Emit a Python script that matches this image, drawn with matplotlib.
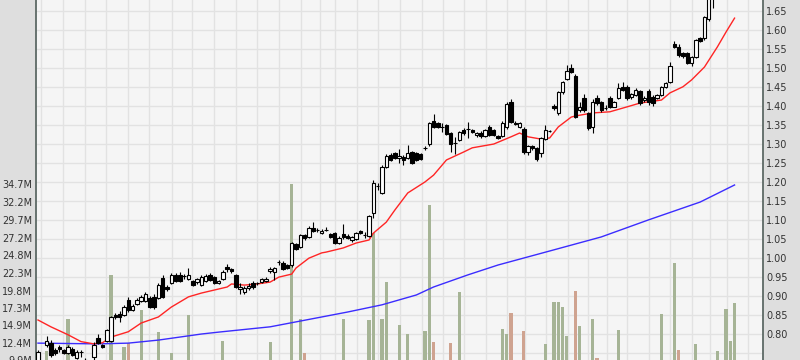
import numpy as np
import matplotlib
matplotlib.use("Agg")
import matplotlib.pyplot as plt
import matplotlib.transforms as mtransforms

# daily candles (price), oldest first
opens = [0.725, 0.728, 0.770, 0.775, 0.757, 0.765, 0.757, 0.749, 0.760, 0.736,
         0.752, 0.730, 0.715, 0.738, 0.789, 0.770, 0.781, 0.781, 0.849, 0.852,
         0.849, 0.889, 0.862, 0.878, 0.886, 0.886, 0.894, 0.897, 0.894, 0.947,
         0.923, 0.934, 0.955, 0.955, 0.952, 0.944, 0.939, 0.936, 0.928, 0.939,
         0.955, 0.950, 0.934, 0.944, 0.976, 0.971, 0.955, 0.918, 0.910, 0.920,
         0.934, 0.934, 0.936, 0.939, 0.965, 0.963, 0.989, 0.986, 0.981, 0.981,
         1.036, 1.029, 1.060, 1.055, 1.079, 1.074, 1.066, 1.074, 1.063, 1.066,
         1.039, 1.063, 1.058, 1.047, 1.050, 1.071, 1.060, 1.058, 1.118, 1.189,
         1.171, 1.240, 1.271, 1.277, 1.263, 1.266, 1.263, 1.279, 1.277, 1.274,
         1.290, 1.300, 1.361, 1.356, 1.345, 1.350, 1.329, 1.303, 1.311, 1.337,
         1.340, 1.337, 1.324, 1.329, 1.321, 1.345, 1.337, 1.321, 1.321, 1.345,
         1.411, 1.356, 1.345, 1.340, 1.279, 1.295, 1.290, 1.277, 1.313, 1.334,
         1.400, 1.382, 1.437, 1.472, 1.501, 1.480, 1.390, 1.422, 1.382, 1.345,
         1.422, 1.411, 1.395, 1.422, 1.398, 1.422, 1.451, 1.451, 1.424, 1.430,
         1.440, 1.416, 1.440, 1.424, 1.422, 1.430, 1.451, 1.464, 1.564, 1.556,
         1.540, 1.540, 1.514, 1.530, 1.580, 1.580, 1.630, 1.700, 1.720, 1.770,
         1.760, 1.830, 1.870]
highs = [0.757, 0.730, 0.794, 0.783, 0.762, 0.770, 0.760, 0.770, 0.765, 0.757,
         0.757, 0.735, 0.728, 0.778, 0.799, 0.773, 0.813, 0.847, 0.855, 0.860,
         0.876, 0.897, 0.878, 0.894, 0.902, 0.910, 0.899, 0.905, 0.934, 0.955,
         0.928, 0.960, 0.960, 0.963, 0.958, 0.973, 0.942, 0.947, 0.955, 0.958,
         0.960, 0.952, 0.942, 0.968, 0.984, 0.973, 0.958, 0.934, 0.926, 0.934,
         0.939, 0.937, 0.947, 0.950, 0.976, 0.976, 0.995, 0.992, 0.984, 1.042,
         1.039, 1.063, 1.063, 1.084, 1.095, 1.079, 1.076, 1.082, 1.066, 1.068,
         1.058, 1.089, 1.063, 1.058, 1.068, 1.074, 1.068, 1.113, 1.205, 1.197,
         1.245, 1.274, 1.277, 1.279, 1.287, 1.271, 1.298, 1.282, 1.279, 1.277,
         1.295, 1.359, 1.380, 1.359, 1.356, 1.353, 1.332, 1.319, 1.335, 1.342,
         1.358, 1.340, 1.332, 1.335, 1.340, 1.350, 1.340, 1.324, 1.361, 1.411,
         1.419, 1.361, 1.359, 1.345, 1.298, 1.298, 1.292, 1.319, 1.350, 1.337,
         1.406, 1.440, 1.467, 1.509, 1.511, 1.485, 1.411, 1.432, 1.385, 1.419,
         1.430, 1.414, 1.403, 1.427, 1.414, 1.461, 1.464, 1.456, 1.435, 1.448,
         1.443, 1.427, 1.445, 1.430, 1.432, 1.453, 1.464, 1.517, 1.572, 1.564,
         1.543, 1.543, 1.532, 1.577, 1.583, 1.638, 1.700, 1.740, 1.780, 1.800,
         1.840, 1.880, 1.920]
lows = [0.717, 0.715, 0.765, 0.738, 0.744, 0.752, 0.746, 0.746, 0.741, 0.733,
        0.738, 0.710, 0.705, 0.725, 0.772, 0.762, 0.778, 0.778, 0.839, 0.831,
        0.847, 0.857, 0.860, 0.876, 0.884, 0.884, 0.868, 0.865, 0.891, 0.894,
        0.913, 0.931, 0.936, 0.936, 0.944, 0.941, 0.926, 0.931, 0.926, 0.936,
        0.939, 0.931, 0.931, 0.942, 0.963, 0.960, 0.920, 0.905, 0.905, 0.915,
        0.918, 0.928, 0.934, 0.936, 0.960, 0.941, 0.981, 0.968, 0.971, 0.976,
        1.021, 1.026, 1.047, 1.052, 1.068, 1.068, 1.063, 1.071, 1.052, 1.036,
        1.036, 1.050, 1.050, 1.042, 1.047, 1.063, 1.052, 1.055, 1.105, 1.179,
        1.168, 1.237, 1.256, 1.261, 1.250, 1.245, 1.261, 1.248, 1.256, 1.258,
        1.284, 1.295, 1.343, 1.343, 1.332, 1.324, 1.279, 1.274, 1.308, 1.324,
        1.316, 1.329, 1.319, 1.316, 1.319, 1.321, 1.321, 1.313, 1.319, 1.340,
        1.356, 1.350, 1.343, 1.274, 1.271, 1.284, 1.256, 1.266, 1.311, 1.332,
        1.390, 1.377, 1.432, 1.469, 1.488, 1.369, 1.385, 1.385, 1.337, 1.329,
        1.403, 1.385, 1.390, 1.395, 1.398, 1.419, 1.440, 1.416, 1.419, 1.427,
        1.403, 1.411, 1.403, 1.400, 1.419, 1.427, 1.448, 1.461, 1.554, 1.530,
        1.527, 1.511, 1.506, 1.527, 1.569, 1.574, 1.625, 1.659, 1.710, 1.740,
        1.750, 1.820, 1.850]
closes = [0.752, 0.722, 0.781, 0.744, 0.749, 0.760, 0.749, 0.765, 0.744, 0.752,
          0.751, 0.715, 0.720, 0.770, 0.775, 0.765, 0.810, 0.844, 0.844, 0.844,
          0.870, 0.862, 0.873, 0.889, 0.897, 0.905, 0.870, 0.870, 0.928, 0.897,
          0.918, 0.955, 0.939, 0.939, 0.951, 0.955, 0.928, 0.944, 0.950, 0.952,
          0.942, 0.934, 0.939, 0.963, 0.971, 0.965, 0.923, 0.923, 0.920, 0.926,
          0.923, 0.933, 0.944, 0.944, 0.971, 0.973, 0.988, 0.971, 0.973, 1.039,
          1.023, 1.060, 1.052, 1.079, 1.071, 1.073, 1.071, 1.073, 1.055, 1.039,
          1.052, 1.055, 1.052, 1.055, 1.066, 1.066, 1.061, 1.110, 1.197, 1.190,
          1.240, 1.269, 1.258, 1.263, 1.269, 1.258, 1.277, 1.250, 1.258, 1.261,
          1.289, 1.356, 1.345, 1.345, 1.346, 1.327, 1.300, 1.302, 1.332, 1.329,
          1.339, 1.332, 1.329, 1.321, 1.337, 1.324, 1.324, 1.316, 1.356, 1.406,
          1.358, 1.353, 1.356, 1.279, 1.295, 1.290, 1.261, 1.316, 1.337, 1.335,
          1.395, 1.437, 1.464, 1.493, 1.490, 1.372, 1.398, 1.390, 1.342, 1.411,
          1.408, 1.390, 1.396, 1.398, 1.411, 1.448, 1.443, 1.422, 1.432, 1.443,
          1.408, 1.422, 1.411, 1.408, 1.430, 1.451, 1.461, 1.506, 1.556, 1.535,
          1.532, 1.514, 1.530, 1.574, 1.572, 1.635, 1.690, 1.720, 1.770, 1.760,
          1.830, 1.870, 1.910]

# volume in millions
volumes = [8.2, 6.5, 11.3, 7.1, 5.3, 4.8, 6.0, 15.81, 7.7, 5.9,
           4.6, 8.8, 6.7, 9.4, 7.3, 5.1, 8.9, 21.98, 7.9, 9.1,
           11.88, 12.44, 6.2, 8.4, 17.07, 9.3, 7.5, 8.1, 13.99, 9.6,
           5.7, 11.04, 6.8, 7.2, 5.0, 16.37, 6.3, 5.5, 8.6, 7.0,
           6.1, 7.4, 4.9, 12.72, 8.3, 6.6, 9.2, 7.8, 5.4, 6.9,
           6.4, 4.7, 7.6, 8.0, 12.58, 9.0, 8.5, 7.1, 6.2, 34.74,
           9.7, 15.81, 11.04, 9.5, 8.7, 6.0, 5.8, 6.9, 7.3, 8.8,
           6.5, 15.81, 7.2, 5.6, 8.1, 6.7, 9.1, 15.67, 27.87, 9.8,
           15.81, 21.0, 9.4, 8.9, 14.97, 9.6, 13.70, 8.2, 7.4, 9.0,
           14.13, 31.80, 12.58, 9.3, 7.7, 9.9, 12.44, 8.6, 19.60, 8.0,
           7.5, 6.4, 5.9, 7.0, 8.3, 9.2, 7.8, 6.1, 14.41, 13.70,
           16.65, 8.4, 7.6, 14.13, 9.5, 6.8, 9.7, 9.9, 12.30, 5.2,
           18.19, 18.19, 17.49, 13.42, 9.8, 19.74, 14.83, 9.4, 9.6, 15.81,
           10.34, 8.5, 6.3, 8.9, 7.1, 14.27, 9.0, 9.3, 6.6, 7.9,
           9.5, 6.0, 8.8, 7.4, 6.9, 16.51, 9.6, 9.9, 23.67, 11.46,
           8.7, 9.2, 7.3, 12.30, 9.4, 9.8, 9.7, 9.9, 11.32, 9.5,
           17.21, 12.72, 18.05]

# moving averages (candle index, price)
ma_short_idx = [0, 3, 7, 10, 13, 15, 17, 21, 24, 28, 31, 35, 38, 41, 44, 45, 48, 51,
                54, 56, 59, 60, 63, 66, 67, 71, 74, 77, 78, 81, 83, 86, 90, 92, 95,
                99, 101, 106, 110, 112, 114, 117, 119, 121, 124, 125, 129, 133, 137,
                140, 145, 147, 150, 152, 155, 158, 160, 162]
ma_short = [0.836, 0.818, 0.797, 0.779, 0.773, 0.776, 0.791, 0.805, 0.828, 0.844,
            0.870, 0.897, 0.907, 0.915, 0.923, 0.931, 0.928, 0.931, 0.936, 0.949,
            0.957, 0.973, 0.999, 1.013, 1.015, 1.026, 1.039, 1.047, 1.065, 1.094,
            1.126, 1.171, 1.200, 1.218, 1.258, 1.279, 1.290, 1.300, 1.319, 1.329,
            1.319, 1.313, 1.316, 1.345, 1.371, 1.374, 1.382, 1.385, 1.398, 1.408,
            1.416, 1.435, 1.451, 1.469, 1.503, 1.556, 1.595, 1.632]
ma_long_idx = [0, 14, 21, 28, 38, 42, 54, 66, 72, 80, 88, 92, 100, 107, 120, 131,
               142, 154, 162]
ma_long = [0.775, 0.773, 0.775, 0.783, 0.799, 0.804, 0.818, 0.844, 0.857, 0.876,
           0.902, 0.923, 0.955, 0.981, 1.021, 1.055, 1.100, 1.147, 1.192]

price_ticks = [0.75, 0.80, 0.85, 0.90, 0.95, 1.00, 1.05, 1.10, 1.15, 1.20, 1.25,
               1.30, 1.35, 1.40, 1.45, 1.50, 1.55, 1.60, 1.65]
vol_ticks = [12.4, 14.9, 17.3, 19.8, 22.3, 24.8, 27.2, 29.7, 32.2, 34.7]
vol_labels = ["12.4M", "14.9M", "17.3M", "19.8M", "22.3M", "24.8M", "27.2M",
              "29.7M", "32.2M", "34.7M"]
week_lines = [0.7, 5.8, 10.9, 15.8, 20.9, 25.8, 31.2, 35.8, 40.9, 46, 50.9, 56,
              61.1, 65.6, 69.1, 74.1, 79.1, 84.2, 89.2, 94.2, 99.1, 104.2, 109.1,
              113.3, 118.1, 123.2, 128, 132.3, 137.1, 142.2, 147.1, 152.2, 156.3,
              160.2, 165.2]

x = np.arange(len(closes))
o = np.array(opens)
c = np.array(closes)
up_day = np.r_[True, c[1:] >= c[:-1]]

fig = plt.figure(figsize=(8, 3.6), dpi=100, facecolor="#dedede")
rect = [35.5 / 800, 0, 727 / 800, 1]
ax_bg = fig.add_axes(rect)
ax_vol = fig.add_axes(rect)
ax = fig.add_axes(rect)
xlim = (-0.58, 168.5)
plim = (0.7305, 1.6798)

# background, grid and price labels
ax_bg.set_facecolor("#f5f5f5")
ax_bg.set_xlim(*xlim)
ax_bg.set_ylim(*plim)
ax_bg.set_xticks(week_lines)
ax_bg.set_yticks(price_ticks)
ax_bg.set_yticklabels([""] + [f"{t:.2f}" for t in price_ticks[1:]])
ax_bg.yaxis.tick_right()
ax_bg.tick_params(axis="y", length=0, labelsize=7, pad=2.5, colors="#333333")
ax_bg.tick_params(axis="x", length=0, labelbottom=False)
ax_bg.grid(True, color="#e2e2e2", linewidth=1.0)
for side in ["top", "bottom"]:
    ax_bg.spines[side].set_visible(False)
for side in ["left", "right"]:
    ax_bg.spines[side].set_color("#5d6965")
    ax_bg.spines[side].set_linewidth(1.3)

# volume
ax_vol.patch.set_visible(False)
ax_vol.set_xlim(*xlim)
ax_vol.set_ylim(10.06, 60.55)
ax_vol.bar(x, volumes, width=0.75, color=np.where(up_day, "#a6b496", "#cfa390"))
ax_vol.set_xticks([])
ax_vol.set_yticks(vol_ticks)
ax_vol.set_yticklabels(vol_labels)
ax_vol.yaxis.tick_left()
ax_vol.tick_params(axis="y", length=0, labelsize=7, pad=2.5, colors="#333333")
for s in ax_vol.spines.values():
    s.set_visible(False)
trans = mtransforms.blended_transform_factory(ax_vol.transAxes, ax_vol.transData)
ax_vol.text(-0.0045, 9.92, "9.9M", transform=trans, ha="right", va="center",
            fontsize=7, color="#333333", clip_on=False)

# candles and moving averages
ax.axis("off")
ax.set_xlim(*xlim)
ax.set_ylim(*plim)
ax.plot(ma_long_idx, ma_long, color="#3b2cff", linewidth=1.0, zorder=2)
ax.plot(ma_short_idx, ma_short, color="#ff2525", linewidth=1.0, zorder=2)
ax.vlines(x, lows, highs, color="black", linewidth=0.8, zorder=3)
rising = c >= o
body_h = np.maximum(np.abs(c - o), 0.0008)
ax.bar(x, body_h, bottom=np.minimum(o, c), width=0.8,
       color=np.where(rising, "white", "black"), edgecolor="black",
       linewidth=0.8, zorder=4)

fig.savefig("out.png", dpi=100, facecolor=fig.get_facecolor())
